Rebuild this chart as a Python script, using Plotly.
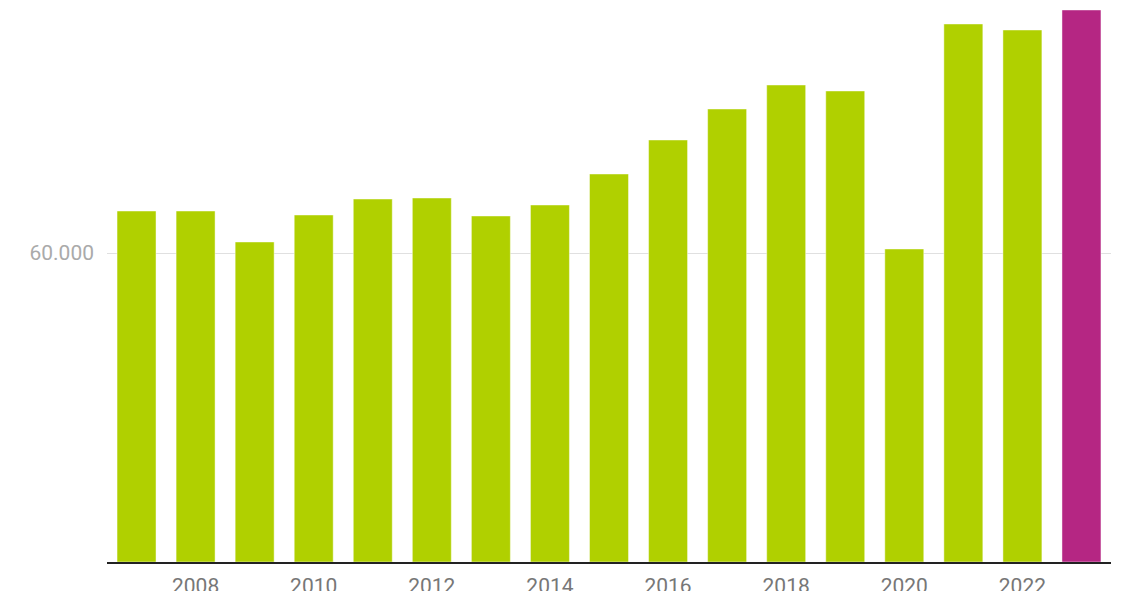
import plotly.graph_objects as go

years = list(range(2007, 2024))
values = [68150, 68150, 62140, 67380, 70480, 70680, 67190, 69320, 75340,
          81940, 87960, 92620, 91460, 60780, 104470, 103300, 107190]
colors = ["#b0d000"] * 16 + ["#b52683"]

fig = go.Figure(go.Bar(
    x=years, y=values,
    marker=dict(color=colors, line=dict(color="rgba(255,255,255,0.45)", width=1)),
))

fig.update_layout(
    width=1128, height=591,
    margin=dict(l=99, r=25, t=0, b=37),
    plot_bgcolor="white", paper_bgcolor="white",
    bargap=0.34,
    separators=",.",
    showlegend=False,
    font=dict(family="Roboto", size=21, color="#777777"),
    xaxis=dict(
        range=[2006.5, 2023.5],
        tickmode="linear", tick0=2008, dtick=2,
        showgrid=False, showline=True, linecolor="#222222", linewidth=2,
        ticks="", tickfont=dict(size=21, color="#777777"),
        ticklabelstandoff=4,
    ),
    yaxis=dict(
        range=[0, 107573],
        tickmode="array", tickvals=[60000], ticktext=["60.000"],
        showgrid=True, gridcolor="#e0e0e0", gridwidth=1,
        zeroline=False, showline=False, ticks="",
        tickfont=dict(size=21, color="#aaaaaa"),
        ticklabelstandoff=12,
    ),
)

fig.write_html("out.html")
